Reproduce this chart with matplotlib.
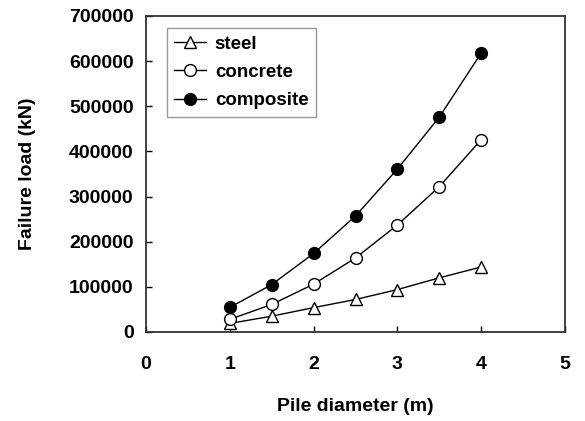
import numpy as np
import matplotlib.pyplot as plt

plt.rcParams['font.family'] = ['Liberation Sans', 'DejaVu Sans']
plt.rcParams['font.weight'] = 'bold'

# Données
diametre = [1, 1.5, 2, 2.5, 3, 3.5, 4]
acier = [19000, 35000, 54000, 72000, 94000, 120000, 144000]
beton = [28000, 61000, 106000, 164000, 237000, 322000, 426000]
composite = [54500, 105000, 174000, 257000, 361000, 476000, 618000]

fig = plt.figure(figsize=(5.85, 4.21), dpi=100)
ax = fig.add_axes([146 / 585, 1 - 332 / 421, 419 / 585, 316 / 421])

ax.plot(diametre, acier, color="black", lw=1, marker="^", ms=8.5,
        mfc="white", mec="black", mew=1, label="steel")
ax.plot(diametre, beton, color="black", lw=1, marker="o", ms=8.5,
        mfc="white", mec="black", mew=1, label="concrete")
ax.plot(diametre, composite, color="black", lw=1, marker="o", ms=8.5,
        mfc="black", mec="black", label="composite")

ax.set_xlim(0, 5)
ax.set_ylim(0, 700000)
ax.set_xticks(range(0, 6))
ax.set_yticks(range(0, 700001, 100000))
ax.tick_params(direction="in", length=4, width=1, labelsize=14)
ax.tick_params(axis="y", pad=9)
ax.tick_params(axis="x", pad=17)
for s in ax.spines.values():
    s.set_linewidth(1.3)
    s.set_color("#333333")

ax.set_xlabel("Pile diameter (m)", fontsize=14, fontweight="bold", labelpad=18)
ax.set_ylabel("Failure load (kN)", fontsize=14, fontweight="bold", labelpad=24)

leg = ax.legend(loc="upper left", bbox_to_anchor=(0.05, 0.962), fontsize=13.5,
                fancybox=False, edgecolor="#999999", framealpha=1,
                borderaxespad=0, handlelength=1.7, handletextpad=0.45,
                borderpad=0.4, labelspacing=0.6)
leg.get_frame().set_linewidth(1)

plt.savefig("out.png", dpi=100)
